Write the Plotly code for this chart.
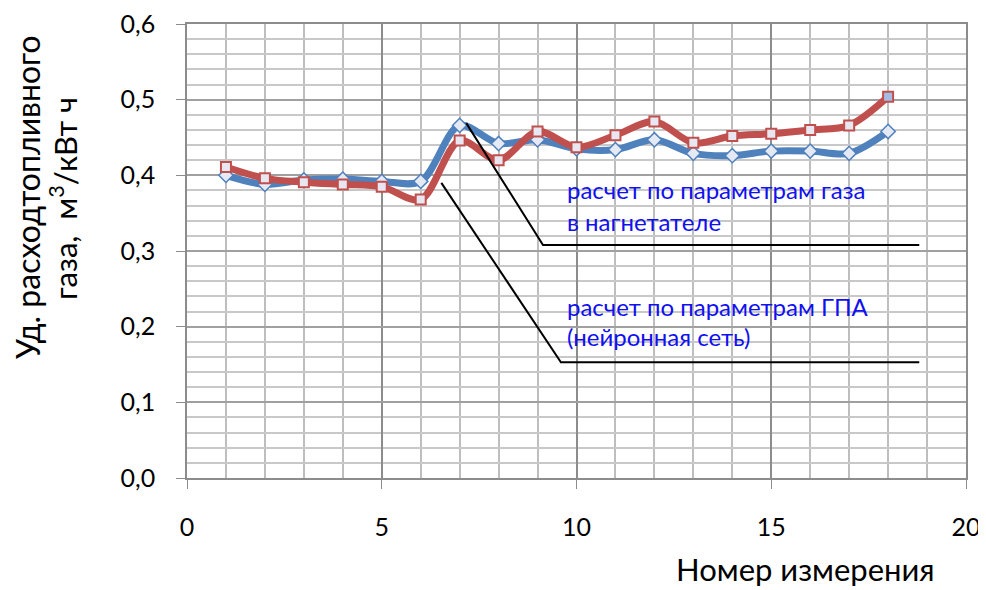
import plotly.graph_objects as go

# ---- data ----
measure_no = list(range(1, 19))
gas_calc = [0.400, 0.388, 0.394, 0.395, 0.392, 0.392, 0.466, 0.442, 0.447, 0.435,
            0.434, 0.447, 0.429, 0.426, 0.432, 0.432, 0.429, 0.458]
nn_calc = [0.411, 0.396, 0.391, 0.388, 0.385, 0.368, 0.446, 0.420, 0.458, 0.437,
           0.453, 0.471, 0.443, 0.452, 0.455, 0.460, 0.466, 0.504]
label_gas = ["расчет по параметрам газа", "в нагнетателе"]
label_nn = ["расчет по параметрам ГПА", "(нейронная сеть)"]
y_title = ["Уд. расходтопливного", "газа,  м<sup>3</sup>/кВт ч"]
x_title = "Номер измерения"

BLUE = "#4F81BD"
RED = "#C0504D"
FONT = "Lato, Noto Sans, sans-serif"

# page body has an 8px margin: work in screenshot pixels, convert to figure
O = 8
W, H = 986, 590
PL, PR, PT, PB = 187, 966, 24, 478          # plot area in screenshot pixels
L, R, T, B = PL - O, W - (PR - O), PT - O, H - (PB - O)
pw, ph = W - L - R, H - T - B


def px(x):
    return (x - O - L) / pw


def py(y):
    return (H - B - (y - O)) / ph


fig = go.Figure()
fig.add_trace(go.Scatter(
    x=measure_no, y=gas_calc, mode="lines+markers",
    line=dict(color=BLUE, width=7, shape="spline", smoothing=0.9),
    marker=dict(symbol="diamond", size=11, color="#E4E9F4",
                line=dict(color=BLUE, width=1.5)),
    showlegend=False))
red_fill = ["#E8E6F0"] * (len(nn_calc) - 1) + ["#A4BCE4"]
fig.add_trace(go.Scatter(
    x=measure_no, y=nn_calc, mode="lines+markers",
    line=dict(color=RED, width=7, shape="spline", smoothing=0.9),
    marker=dict(symbol="square", size=10, color=red_fill,
                line=dict(color=RED, width=2)),
    showlegend=False))

# white label boxes
for (x0, x1, y0, y1) in [(547, 925, 163, 247), (547, 920, 277, 363)]:
    fig.add_shape(type="rect", xref="paper", yref="paper",
                  x0=px(x0), x1=px(x1), y0=py(y1), y1=py(y0),
                  fillcolor="white", line=dict(width=0), layer="below")
# leader lines
fig.add_shape(type="path", xref="x", yref="y",
              path="M 7.17 0.469 L 9.14 0.308 L 18.8 0.308",
              line=dict(color="black", width=2))
fig.add_shape(type="path", xref="x", yref="y",
              path="M 6.53 0.390 L 9.60 0.153 L 18.8 0.153",
              line=dict(color="black", width=2))

TXT = "#1010F0"
for txt, yy in [(label_gas[0], 190), (label_gas[1], 222),
                (label_nn[0], 306), (label_nn[1], 337)]:
    fig.add_annotation(x=px(565), y=py(yy), xref="paper", yref="paper", text=txt,
                       showarrow=False, xanchor="left", yanchor="middle",
                       font=dict(family=FONT, size=24, color=TXT))

fig.add_annotation(x=px(28), y=py(197), xref="paper", yref="paper", text=y_title[0],
                   showarrow=False, textangle=-90, xanchor="center", yanchor="middle",
                   font=dict(family=FONT, size=32, color="black"))
fig.add_annotation(x=px(63), y=py(198), xref="paper", yref="paper", text=y_title[1],
                   showarrow=False, textangle=-90, xanchor="center", yanchor="middle",
                   font=dict(family=FONT, size=31, color="black"))
fig.add_annotation(x=px(937), y=py(569), xref="paper", yref="paper", text=x_title,
                   showarrow=False, xanchor="right", yanchor="middle",
                   font=dict(family=FONT, size=31, color="black"))

fig.update_layout(
    width=W, height=H,
    margin=dict(l=L, r=R, t=T, b=B),
    paper_bgcolor="white", plot_bgcolor="white",
    separators=", ",
    font=dict(family=FONT, size=25, color="black"),
    xaxis=dict(range=[0, 20], dtick=5, tick0=0, showgrid=True, gridcolor="#8C8C8C",
               gridwidth=1.5, zeroline=False, showline=True, linecolor="#8C8C8C",
               linewidth=1.5, mirror=True, ticks="outside", ticklen=9, tickcolor="#8C8C8C",
               ticklabelstandoff=17, automargin=False, ticklabeloverflow="allow",
               tickfont=dict(family=FONT, size=25, color="black"),
               minor=dict(dtick=1, showgrid=True, gridcolor="#BEBEBE", gridwidth=1.5)),
    yaxis=dict(range=[0, 0.6], dtick=0.1, tick0=0, tickformat=".1f", showgrid=True,
               gridcolor="#A0A0A0", gridwidth=1.5, zeroline=False, showline=True,
               linecolor="#8C8C8C", linewidth=1.5, mirror=True, ticks="outside",
               ticklen=9, tickcolor="#8C8C8C", ticklabelstandoff=16, automargin=False,
               ticklabeloverflow="allow",
               tickfont=dict(family=FONT, size=25, color="black"),
               minor=dict(dtick=0.02, showgrid=True, gridcolor="#C8C8C8", gridwidth=1.5)),
)

fig.write_html("out.html")
